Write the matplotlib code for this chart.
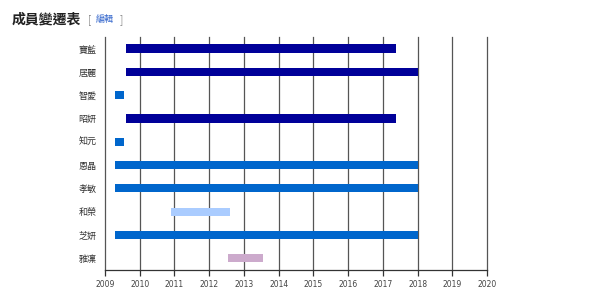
import matplotlib
matplotlib.use("Agg")
import matplotlib.pyplot as plt

plt.rcParams['font.family'] = ['Noto Sans CJK TC', 'DejaVu Sans']

# members, top to bottom
members = ["寶藍", "居麗", "智愛", "昭妍", "知元", "恩晶", "孝敏", "和榮", "芝妍", "雅凜"]
starts = [2009.6, 2009.6, 2009.3, 2009.6, 2009.3, 2009.3, 2009.3, 2010.9, 2009.3, 2012.55]
ends = [2017.37, 2018.0, 2009.55, 2017.37, 2009.55, 2018.0, 2018.0, 2012.6, 2018.0, 2013.55]
groups = ["a", "a", "b", "a", "b", "b", "b", "c", "b", "d"]
years = list(range(2009, 2021))

colors = {"a": "#000099", "b": "#0066cc", "c": "#aaccff", "d": "#ccaacc"}

fig = plt.figure(figsize=(6, 2.95), dpi=100)
ax = fig.add_axes([0.175, 0.085, 0.637, 0.79])

# vertical year lines behind the bars
for yr in years[1:]:
    ax.axvline(yr, color="#555555", lw=0.9, zorder=1, clip_on=False)

for i, (s, e, g) in enumerate(zip(starts, ends, groups)):
    ax.barh(i, e - s, left=s, height=0.35, color=colors[g], zorder=2)

ax.set_xlim(years[0], years[-1])
ax.set_ylim(9.5, -0.5)
ax.set_yticks(range(len(members)))
ax.set_yticklabels(members, fontsize=6.5, color="#333333")
ax.set_xticks(years)
ax.set_xticklabels([str(y) for y in years], fontsize=5.5, color="#444444",
                   family="DejaVu Sans")
ax.tick_params(axis="y", length=0, pad=6)
ax.tick_params(axis="x", length=4, width=0.9, color="#333333", pad=3)

for side in ("top", "right"):
    ax.spines[side].set_visible(False)
ax.spines["left"].set_color("#555555")
ax.spines["left"].set_linewidth(0.9)
ax.spines["bottom"].set_color("#333333")
ax.spines["bottom"].set_linewidth(0.9)

# heading
fig.text(0.02, 0.935, "成員變遷表", fontsize=10, fontweight="bold",
         color="#222222", va="center")
fig.text(0.147, 0.935, "[", fontsize=7, color="#888888", va="center")
fig.text(0.160, 0.935, "編輯", fontsize=6.5, color="#3366cc", va="center")
fig.text(0.200, 0.935, "]", fontsize=7, color="#888888", va="center")

fig.savefig("out.png", dpi=100)
